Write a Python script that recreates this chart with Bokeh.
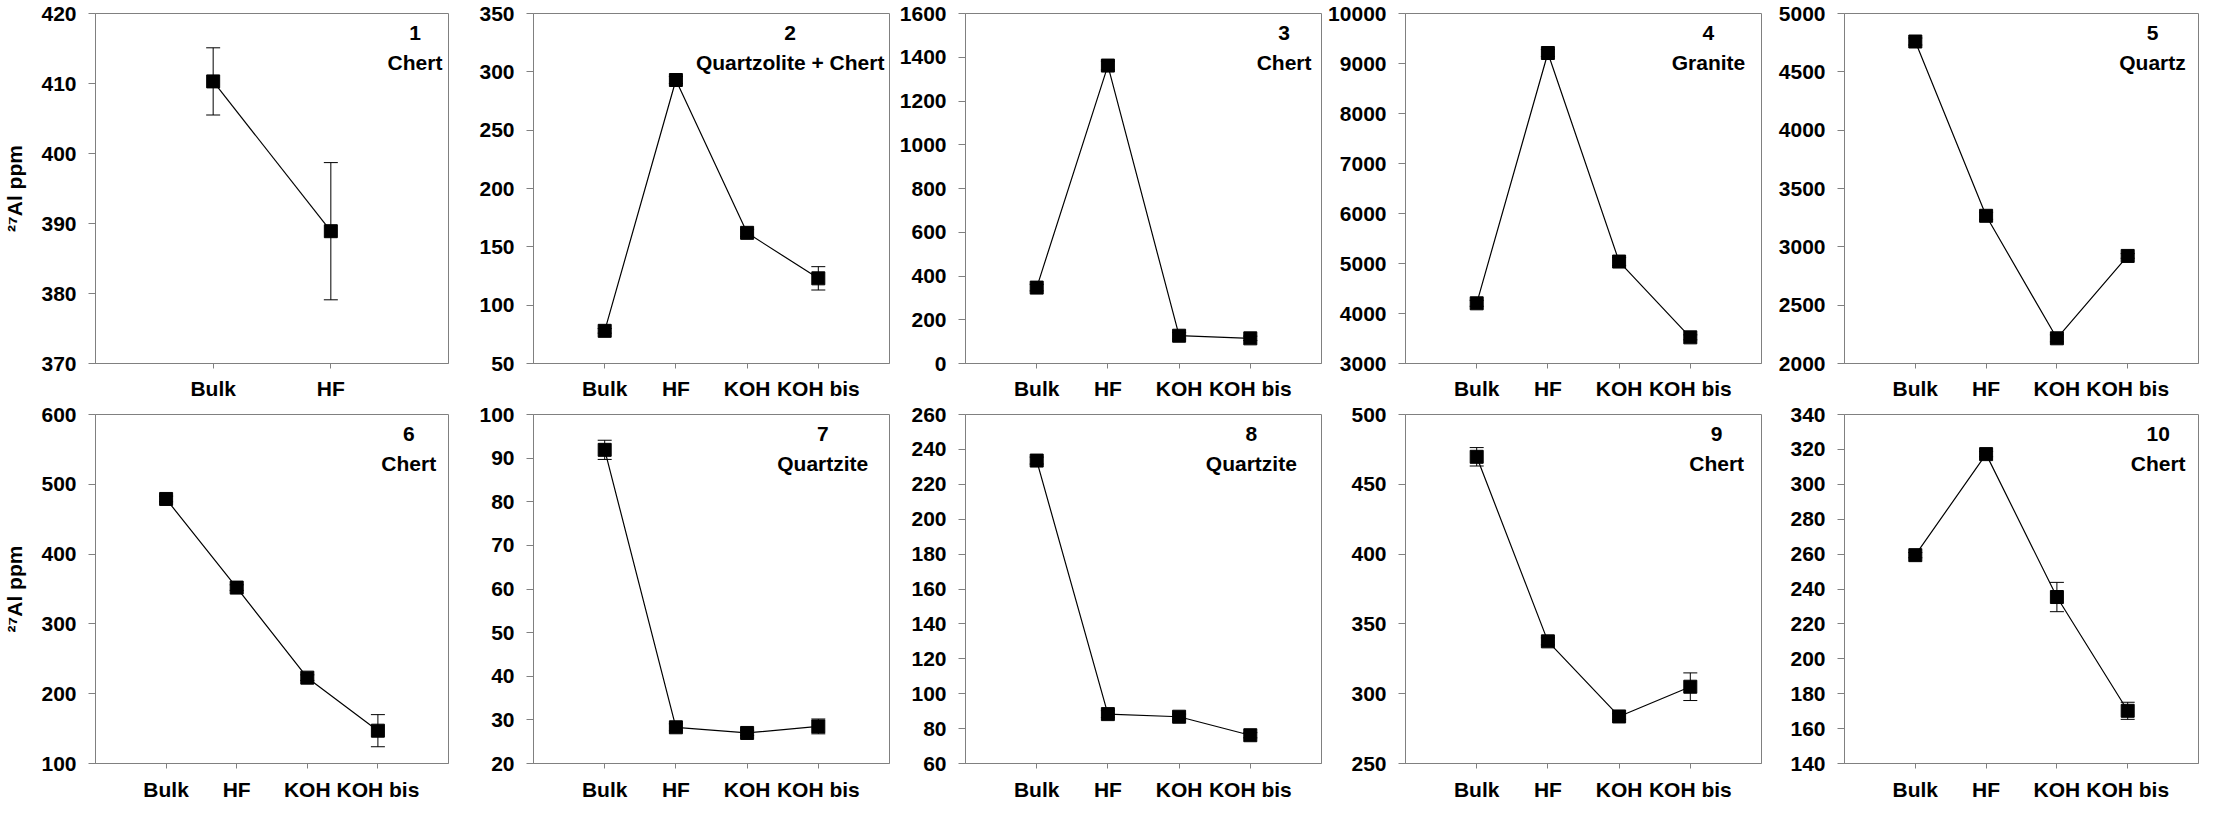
from bokeh.plotting import figure
from bokeh.models import Range1d, FixedTicker, Whisker, TeeHead, ColumnDataSource, Label
from bokeh.layouts import column, row
from bokeh.embed import file_html
from bokeh.resources import INLINE

# ---------------- data ----------------
treat2 = ["Bulk", "HF"]
treat4 = ["Bulk", "HF", "KOH", "KOH bis"]

panel_ids = ["1", "2", "3", "4", "5", "6", "7", "8", "9", "10"]
rock_types = ["Chert", "Quartzolite + Chert", "Chert", "Granite", "Quartz",
              "Chert", "Quartzite", "Quartzite", "Chert", "Chert"]

al_1 = [410.3, 388.9]
err_1 = [4.8, 9.8]
al_2 = [78, 293, 162, 123]
err_2 = [2, 3, 3, 10]
al_3 = [347, 1362, 127, 115]
err_3 = [15, 20, 15, 10]
al_4 = [4204, 9210, 5039, 3523]
err_4 = [60, 70, 80, 50]
al_5 = [4760, 3266, 2216, 2922]
err_5 = [30, 30, 30, 20]
al_6 = [479, 352, 223, 147]
err_6 = [4, 4, 4, 23]
al_7 = [91.9, 28.3, 27.0, 28.5]
err_7 = [2.2, 0.8, 0.6, 1.7]
al_8 = [233.6, 88.3, 86.8, 76.2]
err_8 = [2, 2, 1.5, 1.5]
al_9 = [469.7, 337.5, 283.7, 305]
err_9 = [6.6, 2.5, 2, 9.9]
al_10 = [259.4, 317.3, 235.4, 170.2]
err_10 = [1.5, 1.5, 8.4, 4.9]

yticks_1 = [370, 380, 390, 400, 410, 420]
yticks_2 = [50, 100, 150, 200, 250, 300, 350]
yticks_3 = [0, 200, 400, 600, 800, 1000, 1200, 1400, 1600]
yticks_4 = [3000, 4000, 5000, 6000, 7000, 8000, 9000, 10000]
yticks_5 = [2000, 2500, 3000, 3500, 4000, 4500, 5000]
yticks_6 = [100, 200, 300, 400, 500, 600]
yticks_7 = [20, 30, 40, 50, 60, 70, 80, 90, 100]
yticks_8 = [60, 80, 100, 120, 140, 160, 180, 200, 220, 240, 260]
yticks_9 = [250, 300, 350, 400, 450, 500]
yticks_10 = [140, 160, 180, 200, 220, 240, 260, 280, 300, 320, 340]

y_label = "\u00b2\u2077Al ppm"

panels = [
    (treat2, al_1, err_1, yticks_1),
    (treat4, al_2, err_2, yticks_2),
    (treat4, al_3, err_3, yticks_3),
    (treat4, al_4, err_4, yticks_4),
    (treat4, al_5, err_5, yticks_5),
    (treat4, al_6, err_6, yticks_6),
    (treat4, al_7, err_7, yticks_7),
    (treat4, al_8, err_8, yticks_8),
    (treat4, al_9, err_9, yticks_9),
    (treat4, al_10, err_10, yticks_10),
]

# ---------------- layout / style ----------------
col_left = [92, 83, 74, 82, 81]
col_right = [2, 2, 2, 2, 1]
col_frame = [356, 356, 356, 356, 354]
row_top = [13, 12]
row_frame = [352, 351]
row_bottom = [37, 38]
row_xstandoff = [8, 9]
# annotation centre as fraction of frame width
note_xfrac = [0.905, 0.721, 0.895, 0.851, 0.870, 0.8875, 0.8126, 0.803, 0.874, 0.886]

FONT = "Liberation Sans"
FS = "21px"
GREY = "#808080"


def make_panel(i):
    r, c = divmod(i, 5)
    cats, vals, errs, yt = panels[i]
    n = len(cats)
    xs = list(range(1, n + 1))
    ymin, ymax = yt[0], yt[-1]
    w = col_left[c] + col_frame[c] + col_right[c]
    h = row_top[r] + row_frame[r] + row_bottom[r]
    p = figure(width=w, height=h, output_backend="svg", toolbar_location=None,
               x_range=Range1d(0, n + 1), y_range=Range1d(ymin, ymax),
               min_border_left=col_left[c], min_border_right=col_right[c],
               min_border_top=row_top[r], min_border_bottom=row_bottom[r],
               tools="")
    p.grid.visible = False
    p.outline_line_color = GREY
    p.outline_line_width = 1
    p.background_fill_color = "white"
    p.border_fill_color = "white"

    p.xaxis.ticker = FixedTicker(ticks=xs)
    p.xaxis.major_label_overrides = {x: cats[k] for k, x in enumerate(xs)}
    p.yaxis.ticker = FixedTicker(ticks=yt)
    for ax in (p.xaxis[0], p.yaxis[0]):
        ax.axis_line_color = GREY
        ax.major_tick_line_color = GREY
        ax.minor_tick_line_color = None
        ax.major_tick_in = 0
        ax.major_label_text_font = FONT
        ax.major_label_text_font_size = FS
        ax.major_label_text_font_style = "bold"
        ax.major_label_text_color = "black"
    p.xaxis.major_tick_out = 5
    p.xaxis.major_label_standoff = row_xstandoff[r]
    p.yaxis.major_tick_out = 7
    p.yaxis.major_label_standoff = 12

    if c == 0:
        p.yaxis.axis_label = y_label
        p.yaxis.axis_label_text_font = FONT
        p.yaxis.axis_label_text_font_size = FS
        p.yaxis.axis_label_text_font_style = "bold"
        p.yaxis.axis_label_text_color = "black"
        p.yaxis.axis_label_standoff = 12

    src = ColumnDataSource(dict(
        x=xs, y=vals,
        upper=[v + e for v, e in zip(vals, errs)],
        lower=[v - e for v, e in zip(vals, errs)],
    ))
    wh = Whisker(source=src, base="x", upper="upper", lower="lower",
                 line_color="black", line_width=1,
                 upper_head=TeeHead(size=14, line_color="black", line_width=1),
                 lower_head=TeeHead(size=14, line_color="black", line_width=1),
                 level="underlay")
    p.add_layout(wh)
    p.line("x", "y", source=src, line_color="black", line_width=1.2)
    p.scatter("x", "y", source=src, marker="square", size=13,
              fill_color="black", line_color="black")

    span = ymax - ymin
    fh = row_frame[r]
    xl = note_xfrac[i] * (n + 1)
    for txt, off in ((panel_ids[i], 20), (rock_types[i], 49)):
        p.add_layout(Label(x=xl, y=ymax - off / fh * span, text=txt,
                           text_font=FONT, text_font_size=FS,
                           text_font_style="bold", text_color="black",
                           text_align="center", text_baseline="middle"))
    return p


figs = [make_panel(i) for i in range(10)]
layout = column(row(*figs[:5], spacing=0), row(*figs[5:], spacing=0), spacing=0)

open("out.html", "w").write(file_html(layout, INLINE))
